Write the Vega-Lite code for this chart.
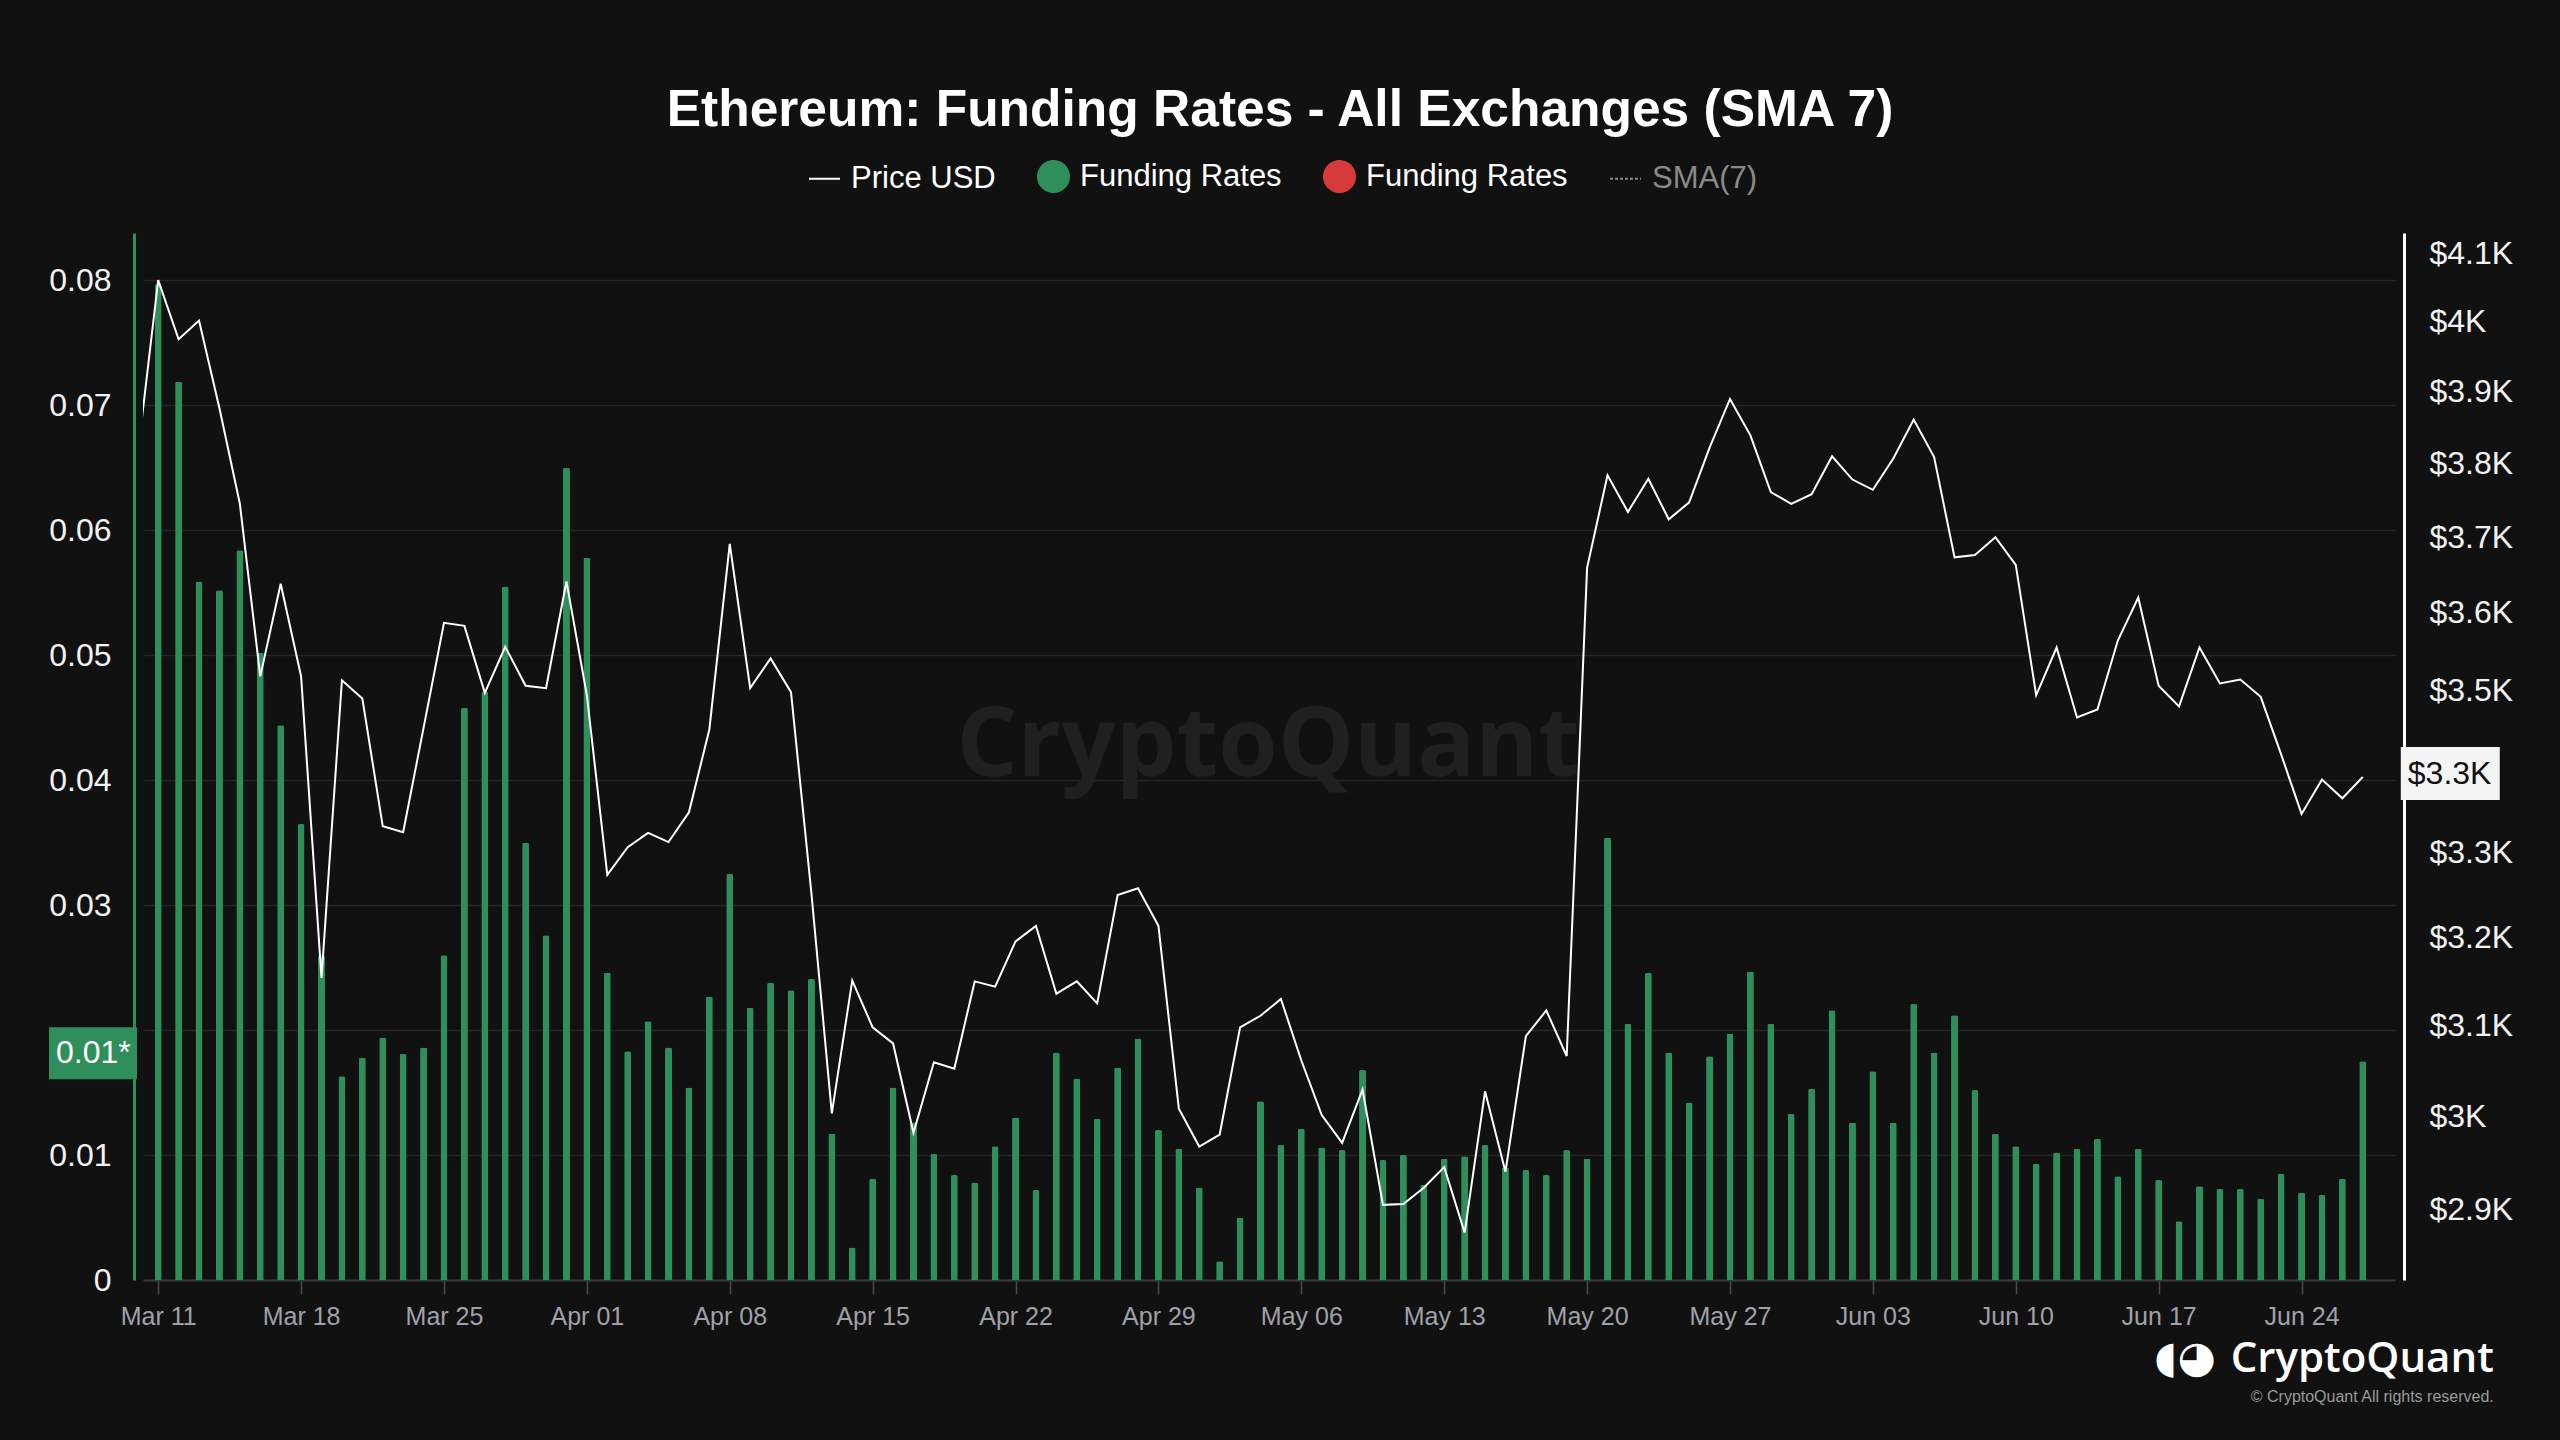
{
  "$schema": "https://vega.github.io/schema/vega-lite/v6.json",
  "width": 2252,
  "height": 1047,
  "autosize": {"type": "none"},
  "padding": {"left": 143, "top": 233, "right": 165, "bottom": 160},
  "background": "#111111",
  "title": {"text": "Ethereum: Funding Rates - All Exchanges (SMA 7)", "font": "Liberation Sans", "fontSize": 51.5, "fontWeight": "bold", "color": "#ffffff", "anchor": "middle", "offset": 24, "dx": 11},
  "config": {"view": {"stroke": null}, "font": "Liberation Sans"},
  "datasets": {
    "main": [
      {"date": "2024-03-10", "rate": null, "price": 3814},
      {"date": "2024-03-11", "rate": 0.0797, "price": 4061},
      {"date": "2024-03-12", "rate": 0.0719, "price": 3975},
      {"date": "2024-03-13", "rate": 0.0559, "price": 4002},
      {"date": "2024-03-14", "rate": 0.0552, "price": 3877},
      {"date": "2024-03-15", "rate": 0.0584, "price": 3745},
      {"date": "2024-03-16", "rate": 0.0502, "price": 3518},
      {"date": "2024-03-17", "rate": 0.0444, "price": 3638},
      {"date": "2024-03-18", "rate": 0.0365, "price": 3518},
      {"date": "2024-03-19", "rate": 0.0260, "price": 3154},
      {"date": "2024-03-20", "rate": 0.0163, "price": 3513},
      {"date": "2024-03-21", "rate": 0.0178, "price": 3490},
      {"date": "2024-03-22", "rate": 0.0194, "price": 3332},
      {"date": "2024-03-23", "rate": 0.0181, "price": 3325},
      {"date": "2024-03-24", "rate": 0.0186, "price": 3453},
      {"date": "2024-03-25", "rate": 0.0260, "price": 3587},
      {"date": "2024-03-26", "rate": 0.0458, "price": 3583},
      {"date": "2024-03-27", "rate": 0.0471, "price": 3497},
      {"date": "2024-03-28", "rate": 0.0555, "price": 3556},
      {"date": "2024-03-29", "rate": 0.0350, "price": 3506},
      {"date": "2024-03-30", "rate": 0.0276, "price": 3503},
      {"date": "2024-03-31", "rate": 0.0650, "price": 3641},
      {"date": "2024-04-01", "rate": 0.0578, "price": 3494},
      {"date": "2024-04-02", "rate": 0.0246, "price": 3274},
      {"date": "2024-04-03", "rate": 0.0183, "price": 3307},
      {"date": "2024-04-04", "rate": 0.0207, "price": 3324},
      {"date": "2024-04-05", "rate": 0.0186, "price": 3313},
      {"date": "2024-04-06", "rate": 0.0154, "price": 3349},
      {"date": "2024-04-07", "rate": 0.0227, "price": 3451},
      {"date": "2024-04-08", "rate": 0.0325, "price": 3691},
      {"date": "2024-04-09", "rate": 0.0218, "price": 3503},
      {"date": "2024-04-10", "rate": 0.0238, "price": 3541},
      {"date": "2024-04-11", "rate": 0.0232, "price": 3498},
      {"date": "2024-04-12", "rate": 0.0241, "price": 3252},
      {"date": "2024-04-13", "rate": 0.0117, "price": 3003},
      {"date": "2024-04-14", "rate": 0.0026, "price": 3151},
      {"date": "2024-04-15", "rate": 0.0081, "price": 3098},
      {"date": "2024-04-16", "rate": 0.0154, "price": 3080},
      {"date": "2024-04-17", "rate": 0.0126, "price": 2982},
      {"date": "2024-04-18", "rate": 0.0101, "price": 3059},
      {"date": "2024-04-19", "rate": 0.0084, "price": 3052},
      {"date": "2024-04-20", "rate": 0.0078, "price": 3150},
      {"date": "2024-04-21", "rate": 0.0107, "price": 3144},
      {"date": "2024-04-22", "rate": 0.0130, "price": 3196},
      {"date": "2024-04-23", "rate": 0.0072, "price": 3214},
      {"date": "2024-04-24", "rate": 0.0182, "price": 3136},
      {"date": "2024-04-25", "rate": 0.0161, "price": 3150},
      {"date": "2024-04-26", "rate": 0.0129, "price": 3125},
      {"date": "2024-04-27", "rate": 0.0170, "price": 3250},
      {"date": "2024-04-28", "rate": 0.0193, "price": 3258},
      {"date": "2024-04-29", "rate": 0.0120, "price": 3214},
      {"date": "2024-04-30", "rate": 0.0105, "price": 3008},
      {"date": "2024-05-01", "rate": 0.0074, "price": 2967},
      {"date": "2024-05-02", "rate": 0.0015, "price": 2980},
      {"date": "2024-05-03", "rate": 0.0050, "price": 3098},
      {"date": "2024-05-04", "rate": 0.0143, "price": 3111},
      {"date": "2024-05-05", "rate": 0.0108, "price": 3130},
      {"date": "2024-05-06", "rate": 0.0121, "price": 3061},
      {"date": "2024-05-07", "rate": 0.0106, "price": 3001},
      {"date": "2024-05-08", "rate": 0.0104, "price": 2971},
      {"date": "2024-05-09", "rate": 0.0168, "price": 3029},
      {"date": "2024-05-10", "rate": 0.0096, "price": 2905},
      {"date": "2024-05-11", "rate": 0.0100, "price": 2906},
      {"date": "2024-05-12", "rate": 0.0076, "price": 2923},
      {"date": "2024-05-13", "rate": 0.0097, "price": 2945},
      {"date": "2024-05-14", "rate": 0.0099, "price": 2876},
      {"date": "2024-05-15", "rate": 0.0108, "price": 3027},
      {"date": "2024-05-16", "rate": 0.0090, "price": 2940},
      {"date": "2024-05-17", "rate": 0.0088, "price": 3088},
      {"date": "2024-05-18", "rate": 0.0084, "price": 3117},
      {"date": "2024-05-19", "rate": 0.0104, "price": 3066},
      {"date": "2024-05-20", "rate": 0.0097, "price": 3659},
      {"date": "2024-05-21", "rate": 0.0354, "price": 3784},
      {"date": "2024-05-22", "rate": 0.0205, "price": 3734},
      {"date": "2024-05-23", "rate": 0.0246, "price": 3779},
      {"date": "2024-05-24", "rate": 0.0182, "price": 3724},
      {"date": "2024-05-25", "rate": 0.0142, "price": 3747},
      {"date": "2024-05-26", "rate": 0.0179, "price": 3822},
      {"date": "2024-05-27", "rate": 0.0197, "price": 3890},
      {"date": "2024-05-28", "rate": 0.0247, "price": 3839},
      {"date": "2024-05-29", "rate": 0.0205, "price": 3761},
      {"date": "2024-05-30", "rate": 0.0133, "price": 3745},
      {"date": "2024-05-31", "rate": 0.0153, "price": 3758},
      {"date": "2024-06-01", "rate": 0.0216, "price": 3810},
      {"date": "2024-06-02", "rate": 0.0126, "price": 3778},
      {"date": "2024-06-03", "rate": 0.0167, "price": 3764},
      {"date": "2024-06-04", "rate": 0.0126, "price": 3807},
      {"date": "2024-06-05", "rate": 0.0221, "price": 3861},
      {"date": "2024-06-06", "rate": 0.0182, "price": 3809},
      {"date": "2024-06-07", "rate": 0.0212, "price": 3673},
      {"date": "2024-06-08", "rate": 0.0152, "price": 3676},
      {"date": "2024-06-09", "rate": 0.0117, "price": 3700},
      {"date": "2024-06-10", "rate": 0.0107, "price": 3663},
      {"date": "2024-06-11", "rate": 0.0093, "price": 3494},
      {"date": "2024-06-12", "rate": 0.0102, "price": 3555},
      {"date": "2024-06-13", "rate": 0.0105, "price": 3466},
      {"date": "2024-06-14", "rate": 0.0113, "price": 3476},
      {"date": "2024-06-15", "rate": 0.0083, "price": 3564},
      {"date": "2024-06-16", "rate": 0.0105, "price": 3620},
      {"date": "2024-06-17", "rate": 0.0080, "price": 3506},
      {"date": "2024-06-18", "rate": 0.0047, "price": 3480},
      {"date": "2024-06-19", "rate": 0.0075, "price": 3555},
      {"date": "2024-06-20", "rate": 0.0073, "price": 3509},
      {"date": "2024-06-21", "rate": 0.0073, "price": 3514},
      {"date": "2024-06-22", "rate": 0.0065, "price": 3492},
      {"date": "2024-06-23", "rate": 0.0085, "price": 3420},
      {"date": "2024-06-24", "rate": 0.0070, "price": 3347},
      {"date": "2024-06-25", "rate": 0.0068, "price": 3389},
      {"date": "2024-06-26", "rate": 0.0081, "price": 3366},
      {"date": "2024-06-27", "rate": 0.0175, "price": 3392}
    ]
  },
  "data": {"name": "main"},
  "layer": [
    {
      "layer": [
        {
          "mark": {"type": "bar", "size": 7, "cornerRadiusEnd": 2},
          "transform": [{"filter": "isValid(datum.rate)"}],
          "encoding": {
            "x": {
              "field": "date", "type": "temporal",
              "scale": {"type": "utc", "domain": [{"year": 2024, "month": 3, "date": 10, "hours": 12, "utc": true}, {"year": 2024, "month": 6, "date": 28, "hours": 8, "utc": true}]},
              "axis": {
                "title": null, "format": "%b %d", "labelFont": "Liberation Sans", "labelFontSize": 25, "labelColor": "#a0a1a9",
                "tickColor": "#4a4a4a", "tickSize": 14, "tickWidth": 1.5, "domainColor": "#3a3a3a", "domainWidth": 2,
                "labelPadding": 10, "grid": false, "labelFlush": false, "labelOverlap": false,
                "values": [
                  {"year": 2024, "month": 3, "date": 11, "utc": true}, {"year": 2024, "month": 3, "date": 18, "utc": true},
                  {"year": 2024, "month": 3, "date": 25, "utc": true}, {"year": 2024, "month": 4, "date": 1, "utc": true},
                  {"year": 2024, "month": 4, "date": 8, "utc": true}, {"year": 2024, "month": 4, "date": 15, "utc": true},
                  {"year": 2024, "month": 4, "date": 22, "utc": true}, {"year": 2024, "month": 4, "date": 29, "utc": true},
                  {"year": 2024, "month": 5, "date": 6, "utc": true}, {"year": 2024, "month": 5, "date": 13, "utc": true},
                  {"year": 2024, "month": 5, "date": 20, "utc": true}, {"year": 2024, "month": 5, "date": 27, "utc": true},
                  {"year": 2024, "month": 6, "date": 3, "utc": true}, {"year": 2024, "month": 6, "date": 10, "utc": true},
                  {"year": 2024, "month": 6, "date": 17, "utc": true}, {"year": 2024, "month": 6, "date": 24, "utc": true}
                ]
              }
            },
            "y": {
              "field": "rate", "type": "quantitative",
              "scale": {"domain": [0, 0.0838], "nice": false, "zero": true},
              "axis": {
                "title": null, "orient": "left", "offset": 9, "values": [0, 0.01, 0.02, 0.03, 0.04, 0.05, 0.06, 0.07, 0.08],
                "labelExpr": "abs(datum.value - 0.02) < 0.0001 ? '' : format(datum.value, '~g')",
                "labelFont": "Liberation Sans", "labelFontSize": 32, "labelColor": "#f2f2f2", "labelPadding": 23,
                "ticks": false, "domainColor": "#2e8f5a", "domainWidth": 3, "grid": true, "gridColor": "#262626", "gridWidth": 1.5
              }
            },
            "color": {
              "datum": "Funding Rates",
              "scale": {"domain": ["Price USD", "Funding Rates", "Funding Rates ", "SMA(7)"], "range": ["#ffffff", "#2e8f5a", "#d63a3a", "#8a8a8a"]},
              "legend": {
                "orient": "none", "legendX": 665, "legendY": -73, "direction": "horizontal", "title": null, "padding": 0,
                "labelFont": "Liberation Sans", "labelFontSize": 31, "labelColor": "#ffffff", "labelLimit": 500,
                "symbolSize": 961, "labelOffset": 10, "columnPadding": 38, "symbolStrokeWidth": 2,
                "encode": {
                  "symbols": {"update": {
                    "shape": {"signal": "datum.value === 'Price USD' || datum.value === 'SMA(7)' ? 'stroke' : 'circle'"},
                    "fill": {"signal": "datum.value === 'Funding Rates' ? '#2e8f5a' : datum.value === 'Funding Rates ' ? '#d63a3a' : 'transparent'"},
                    "stroke": {"signal": "datum.value === 'Price USD' ? '#ffffff' : datum.value === 'SMA(7)' ? '#8a8a8a' : 'transparent'"},
                    "strokeDash": {"signal": "datum.value === 'SMA(7)' ? [3, 2] : [1, 0]"},
                    "strokeWidth": {"value": 2},
                    "opacity": {"value": 1}, "fillOpacity": {"value": 1}, "strokeOpacity": {"value": 1}
                  }},
                  "labels": {"update": {"fill": {"signal": "datum.value === 'SMA(7)' ? '#8a8a8a' : '#ffffff'"}}}
                }
              }
            }
          }
        },
        {
          "mark": {"type": "text", "font": "Open Sans", "fontWeight": 700, "fontSize": 96, "color": "#202020", "align": "center", "baseline": "middle"},
          "transform": [{"filter": {"field": "date", "equal": {"year": 2024, "month": 6, "date": 27, "utc": true}}}],
          "encoding": {
            "x": {"datum": {"year": 2024, "month": 5, "date": 4, "hours": 9, "utc": true}, "type": "temporal"},
            "y": {"datum": 0.0427, "type": "quantitative"},
            "text": {"value": "CryptoQuant"}
          }
        },
        {
          "mark": {"type": "rect", "color": "#2e8f5a", "xOffset": -99, "x2Offset": -11, "yOffset": -34, "y2Offset": 18},
          "transform": [{"filter": {"field": "date", "equal": {"year": 2024, "month": 6, "date": 27, "utc": true}}}],
          "encoding": {
            "x": {"datum": {"year": 2024, "month": 3, "date": 10, "hours": 12, "utc": true}, "type": "temporal"},
            "x2": {"datum": {"year": 2024, "month": 3, "date": 10, "hours": 12, "utc": true}},
            "y": {"field": "rate", "type": "quantitative"},
            "y2": {"field": "rate"}
          }
        },
        {
          "mark": {"type": "text", "font": "Liberation Sans", "fontSize": 32, "color": "#ffffff", "align": "left", "baseline": "middle", "dx": -92, "dy": -8},
          "transform": [{"filter": {"field": "date", "equal": {"year": 2024, "month": 6, "date": 27, "utc": true}}}],
          "encoding": {
            "x": {"datum": {"year": 2024, "month": 3, "date": 10, "hours": 12, "utc": true}, "type": "temporal"},
            "y": {"field": "rate", "type": "quantitative"},
            "text": {"value": "0.01*"}
          }
        },
        {
          "mark": {"type": "text", "font": "Open Sans", "fontWeight": 600, "fontSize": 42, "color": "#ffffff", "align": "right", "baseline": "middle"},
          "transform": [{"filter": {"field": "date", "equal": {"year": 2024, "month": 6, "date": 27, "utc": true}}}],
          "encoding": {
            "x": {"datum": {"year": 2024, "month": 7, "date": 3, "hours": 10, "utc": true}, "type": "temporal"},
            "y": {"datum": -0.0063, "type": "quantitative"},
            "text": {"value": "CryptoQuant"}
          }
        },
        {
          "mark": {"type": "text", "font": "DejaVu Sans", "fontSize": 44, "color": "#ffffff", "align": "center", "baseline": "middle"},
          "transform": [{"filter": {"field": "date", "equal": {"year": 2024, "month": 6, "date": 27, "utc": true}}}],
          "encoding": {
            "x": {"datum": {"year": 2024, "month": 6, "date": 18, "hours": 7, "utc": true}, "type": "temporal"},
            "y": {"datum": -0.0063, "type": "quantitative"},
            "text": {"value": "◖◕"}
          }
        },
        {
          "mark": {"type": "text", "font": "Liberation Sans", "fontSize": 16, "color": "#9a9a9a", "align": "right", "baseline": "middle"},
          "transform": [{"filter": {"field": "date", "equal": {"year": 2024, "month": 6, "date": 27, "utc": true}}}],
          "encoding": {
            "x": {"datum": {"year": 2024, "month": 7, "date": 3, "hours": 10, "utc": true}, "type": "temporal"},
            "y": {"datum": -0.0094, "type": "quantitative"},
            "text": {"value": "© CryptoQuant All rights reserved."}
          }
        }
      ]
    },
    {
      "layer": [
        {
          "mark": {"type": "line", "strokeWidth": 2, "clip": true, "interpolate": "linear"},
          "encoding": {
            "x": {"field": "date", "type": "temporal", "scale": {"type": "utc", "domain": [{"year": 2024, "month": 3, "date": 10, "hours": 12, "utc": true}, {"year": 2024, "month": 6, "date": 28, "hours": 8, "utc": true}]}},
            "y": {
              "field": "price", "type": "quantitative",
              "scale": {"type": "log", "domain": [2827, 4131], "nice": false, "zero": false},
              "axis": {
                "title": null, "orient": "right", "offset": 9,
                "values": [2900, 3000, 3100, 3200, 3300, 3400, 3500, 3600, 3700, 3800, 3900, 4000, 4100],
                "labelExpr": "datum.value == 3400 ? '' : '$' + format(datum.value / 1000, '~g') + 'K'",
                "labelFont": "Liberation Sans", "labelFontSize": 32, "labelColor": "#f2f2f2", "labelPadding": 25,
                "ticks": false, "domainColor": "#ffffff", "domainWidth": 3, "grid": false
              }
            },
            "color": {"datum": "Price USD"}
          }
        },
        {
          "mark": {"type": "rect", "color": "#f4f4f4", "xOffset": 38, "x2Offset": 137, "yOffset": -30, "y2Offset": 23},
          "transform": [{"filter": {"field": "date", "equal": {"year": 2024, "month": 6, "date": 27, "utc": true}}}],
          "encoding": {
            "x": {"field": "date", "type": "temporal"},
            "x2": {"field": "date"},
            "y": {"field": "price", "type": "quantitative"},
            "y2": {"field": "price"}
          }
        },
        {
          "mark": {"type": "text", "font": "Liberation Sans", "fontSize": 32, "color": "#111111", "align": "left", "baseline": "middle", "dx": 45, "dy": -3},
          "transform": [{"filter": {"field": "date", "equal": {"year": 2024, "month": 6, "date": 27, "utc": true}}}],
          "encoding": {
            "x": {"field": "date", "type": "temporal"},
            "y": {"field": "price", "type": "quantitative"},
            "text": {"value": "$3.3K"}
          }
        }
      ]
    }
  ],
  "resolve": {"scale": {"y": "independent"}}
}
